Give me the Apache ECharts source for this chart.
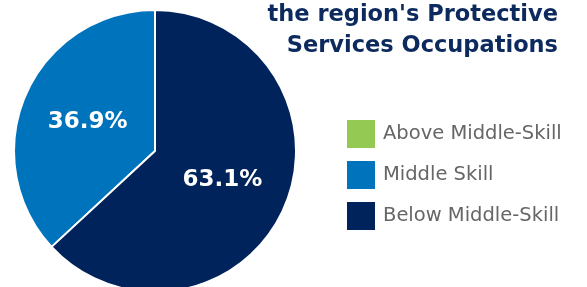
<!DOCTYPE html>
<html>
<head>
<meta charset="utf-8">
<script src="https://cdn.jsdelivr.net/npm/echarts@6/dist/echarts.min.js"></script>
<style>
  html, body { margin: 0; padding: 0; background: #fff; }
  #chart { width: 587px; height: 287px; }
</style>
</head>
<body>
<div id="chart"></div>
<script>
const categories = ['Above Middle-Skill', 'Middle Skill', 'Below Middle-Skill']
const shares = [0, 36.9, 63.1]
const colors = ['#94c954', '#0073bd', '#00235c']
const titleLines = ["the region's Protective", 'Services Occupations']

const chart = echarts.init(document.getElementById('chart'))

const pieData = categories.map((name, i) => ({
    name: name,
    value: shares[i],
    itemStyle: { color: colors[i] },
    label: { show: shares[i] > 0 }
}))

// one title per line so both lines are right-aligned
const titles = titleLines.map((line, i) => ({
    text: line,
    right: 29,
    top: 4 + i * 31,
    padding: 0,
    textStyle: {
        fontFamily: 'DejaVu Sans',
        fontWeight: 'bold',
        fontSize: 22.5,
        color: '#0d2a5e'
    }
}))

chart.setOption({
    animation: false,
    title: titles,
    legend: {
        orient: 'vertical',
        left: 345,
        top: 118,
        padding: 0,
        itemWidth: 30,
        itemHeight: 30,
        itemGap: 9,
        icon: 'rect',
        selectedMode: false,
        data: categories,
        textStyle: {
            fontFamily: 'DejaVu Sans',
            fontSize: 19.5,
            color: '#666666',
            padding: [0, 0, 0, 2]
        }
    },
    series: [{
        type: 'pie',
        center: [155, 151],
        radius: [0, 141],
        clockwise: false,
        startAngle: 90,
        avoidLabelOverlap: false,
        itemStyle: { borderColor: '#ffffff', borderWidth: 2 },
        label: {
            position: 'inside',
            formatter: p => p.value.toFixed(1) + '%',
            color: '#ffffff',
            fontFamily: 'DejaVu Sans',
            fontWeight: 'bold',
            fontSize: 23
        },
        labelLine: { show: false },
        emphasis: { disabled: true },
        data: pieData
    }]
})
</script>
</body>
</html>
